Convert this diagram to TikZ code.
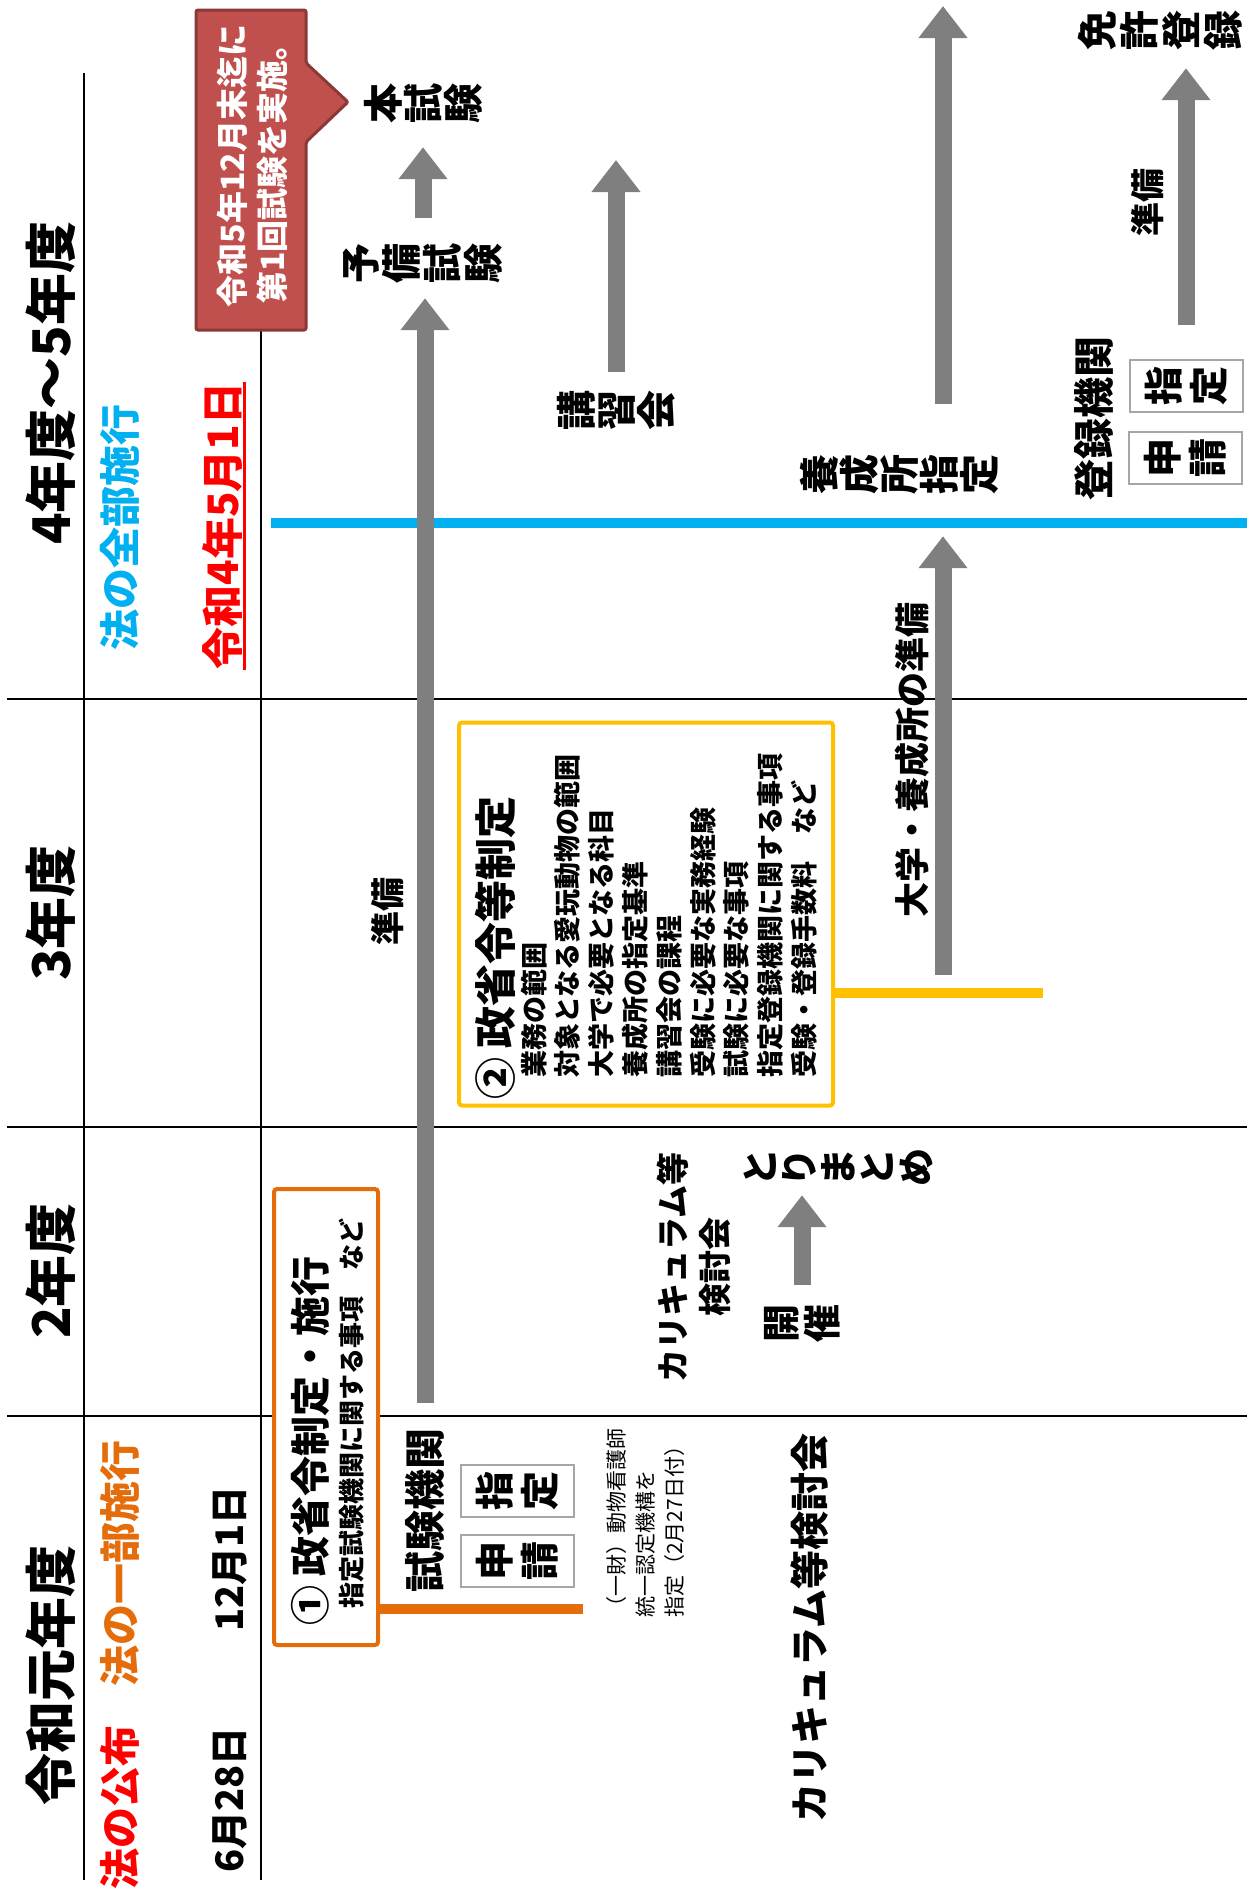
\documentclass[tikz,border=0pt]{standalone}
\usepackage{fontspec}
\setmainfont{Noto Sans CJK JP}[AutoFakeSlant=0.2]
\usepackage{tikz}
\usetikzlibrary{arrows.meta}

\definecolor{ored}{HTML}{C0504D}
\definecolor{oredline}{HTML}{8C3836}
\definecolor{oorange}{HTML}{E46C0A}
\definecolor{oyellow}{HTML}{FFC000}
\definecolor{ocyan}{HTML}{00B0F0}
\definecolor{ogray}{HTML}{7F7F7F}

\newcommand\fsz[2]{\fontsize{#1}{#2}\selectfont}

\tikzset{
  txt/.style={rotate=90, inner sep=0pt, font=\bfseries},
  sz/.style 2 args={font=\bfseries\fsz{#1}{#2}},
  sepline/.style={line width=2pt},
  grayarrow/.style={draw=ogray, line width=17pt, -{Triangle[width=47pt,length=32pt]}},
  kbox/.style={txt, sz={39}{45}, align=center, draw=gray!70, line width=2pt,
    minimum width=52pt, minimum height=113pt},
  obox/.style={draw=oorange, fill=white, line width=4pt, rounded corners=3pt},
  ybox/.style={draw=oyellow, fill=white, line width=4pt, rounded corners=3pt}
}

\begin{document}
\begin{tikzpicture}[x=1pt,y=-1pt]
\useasboundingbox (0,0) rectangle (1247,1890);

% table lines
\draw[sepline] (84,73) -- (84,1880);
\draw[sepline] (261,330) -- (261,1880);
\foreach \y in {699,1127,1416} {
  \draw[sepline] (7,\y) -- (1247,\y);
}
\draw[ocyan, line width=10pt] (271,523) -- (1247,523);

% year headers
\foreach \n/\t/\y in {h1/令和元年度/1675, h2/2年度/1271, h3/3年度/913, h4/4年度～5年度/383} {
  \node[txt, sz={52}{52}] (\n) at (51,\y) {\t};
}
\node[txt, sz={41}{41}, text=red] (kouhu) at (120,1807) {法の公布};
\node[txt, sz={41}{41}, text=oorange] (ichibu) at (120,1563) {法の一部施行};
\node[txt, sz={41}{41}, text=ocyan] (zenbu) at (120,527) {法の全部施行};
\node[txt, sz={38}{38}] (d1) at (230,1800) {6月28日};
\node[txt, sz={38}{38}] (d2) at (230,1559) {12月1日};
\node[txt, sz={42}{42}, text=red] (d3) at (222,526) {令和4年5月1日};
\draw[red, line width=3pt] ([xshift=2pt]d3.south west) -- ([xshift=2pt]d3.south east);

% callout
\filldraw[fill=ored, draw=oredline, line width=3pt, rounded corners=2pt]
  (196,10) -- (306,10) -- (306,63) -- (348,102) -- (306,142) -- (306,330) -- (196,330) -- cycle;
\node[txt, sz={32}{40}, text=white, align=center] (goal) at (252,166)
  {令和5年12月末迄に\\第1回試験を実施。};

% boxes 1 and 2
\node[obox, minimum width=104pt, minimum height=456pt] (rei1) at (326,1417) {};
\coordinate (oend) at (583,1609);
\draw[oorange, line width=10pt] (rei1.east |- oend) -- (oend);
\node[txt, sz={40}{40}, anchor=west] (t1) at (310,1626) {① 政省令制定・施行};
\node[txt, sz={26}{26}, anchor=west] (t1s) at (352,1609) {指定試験機関に関する事項　{\itshape など}};

\node[ybox, minimum width=374pt, minimum height=383pt] (rei2) at (646,914) {};
\coordinate (yend) at (1043,993);
\draw[oyellow, line width=10pt] (rei2.east |- yend) -- (yend);
\node[txt, sz={42}{42}, anchor=west] (t2) at (495,1100) {② 政省令等制定};
\node[txt, sz={27}{33.8}, anchor=west, align=left] (t2s) at (669,1078)
  {業務の範囲\\対象となる愛玩動物の範囲\\大学で必要となる科目\\養成所の指定基準\\講習会の課程\\
   受験に必要な実務経験\\試験に必要な事項\\指定登録機関に関する事項\\受験・登録手数料　{\itshape など}};

% exam bodies
\node[txt, sz={41}{41}] (shiken) at (425,1510) {試験機関};
\node[kbox] (shitei1) at (517,1491) {指\\定};
\node[kbox] (shinsei1) at (517,1561) {申\\請};
\node[txt, sz={41}{41}] (touroku) at (1094,418) {登録機関};
\node[kbox] (shitei2) at (1186,386) {指\\定};
\node[kbox] (shinsei2) at (1185,458) {申\\請};

\node[txt, sz={40}{40}, align=center] (hon) at (423,103) {本\\試\\験};
\node[txt, sz={40}{41}, align=center] (yobi) at (423,263) {予\\備\\試\\験};
\node[txt, sz={40}{40}, align=center] (koushuu) at (616,410) {講\\習\\会};
\node[txt, sz={40}{40}, align=center] (yousei) at (899,474) {養\\成\\所\\指\\定};
\node[txt, sz={40}{42}, align=center] (menkyo) at (1160,30) {免\\許\\登\\録};
\node[txt, sz={38}{41}, align=center] (kaisai) at (802,1323) {開\\催};
\node[txt, sz={38}{39}, align=center] (torimatome) at (838,1167) {と\\り\\ま\\と\\め};

\node[txt, sz={34}{34}] (junbi1) at (388,911) {準備};
\node[txt, sz={35}{35}] (daigaku) at (912,760) {大学・養成所の準備};
\node[txt, sz={34}{34}] (junbi2) at (1148,202) {準備};
\node[txt, sz={33}{42}, align=center] (kentou) at (694,1267) {カリキュラム等\\検討会};
\node[txt, sz={39}{39}] (kentoukai) at (810,1628) {カリキュラム等検討会};
\node[txt, font=\fsz{21}{29}, anchor=west, align=left] (kikou) at (646,1618)
  {（一財）動物看護師\\統一認定機構を\\指定（2月27日付）};

% arrows
\draw[grayarrow, shorten <=25pt, shorten >=15pt] (shiken.east) -- (shiken.east |- yobi.west);
\draw[grayarrow, shorten <=25pt, shorten >=24pt] (yobi.east) -- (hon.west);
\coordinate (ktop) at (616,160);
\draw[grayarrow, shorten <=18pt] (koushuu.east) -- (ktop);
\coordinate (ytop) at (943,6);
\coordinate (ybot) at (943,975);
\draw[grayarrow, shorten >=42pt] (ybot) -- (ybot |- yousei.west);
\draw[grayarrow, shorten <=50pt] (ytop |- yousei.east) -- (ytop);
\draw[grayarrow, shorten <=34pt, shorten >=18pt] (shitei2.east) -- (shitei2.east |- menkyo.west);
\draw[grayarrow, shorten <=19pt, shorten >=9pt] (kaisai.east) -- (kaisai.east |- torimatome.west);
\end{tikzpicture}
\end{document}
